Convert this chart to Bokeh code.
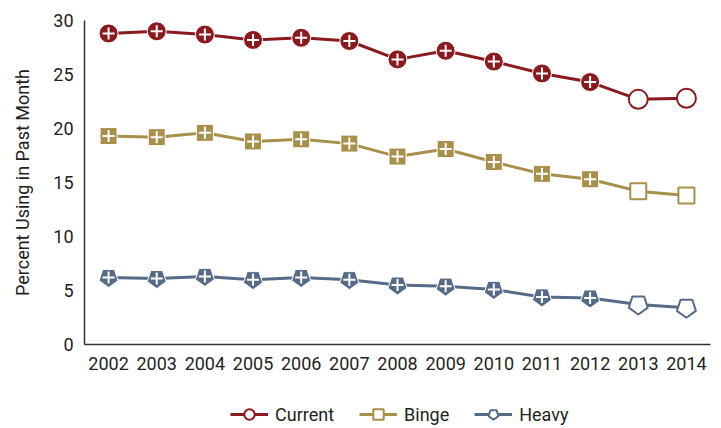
import math
from bokeh.plotting import figure
from bokeh.layouts import column
from bokeh.models import ColumnDataSource, Legend, LegendItem, Range1d, FixedTicker
from bokeh.embed import file_html
from bokeh.resources import INLINE

years = [2002, 2003, 2004, 2005, 2006, 2007, 2008, 2009, 2010, 2011, 2012, 2013, 2014]
current = [28.8, 29.0, 28.7, 28.2, 28.4, 28.1, 26.4, 27.2, 26.2, 25.1, 24.3, 22.7, 22.8]
binge = [19.3, 19.2, 19.6, 18.8, 19.0, 18.6, 17.4, 18.1, 16.9, 15.8, 15.3, 14.2, 13.8]
heavy = [6.2, 6.1, 6.3, 6.0, 6.2, 6.0, 5.5, 5.4, 5.1, 4.4, 4.3, 3.7, 3.4]
# filled marker (+) = difference from 2014 is significant
significant = [True, True, True, True, True, True, True, True, True, True, True, False, False]
y_ticks = [0, 5, 10, 15, 20, 25, 30]
series_names = ["Current", "Binge", "Heavy"]

FONT = "Roboto"
TXT = "#231f20"
colors = {"Current": "#8b1a1e", "Binge": "#a8904b", "Heavy": "#566b87"}

p = figure(frame_width=626, frame_height=324, x_range=Range1d(2001.5, 2014.5), y_range=Range1d(0, 30),
           output_backend="svg", toolbar_location=None,
           min_border_left=84, min_border_right=3, min_border_top=20, min_border_bottom=40)
p.outline_line_color = None
p.xgrid.visible = False
p.ygrid.visible = False

for ax in (p.xaxis[0], p.yaxis[0]):
    ax.axis_line_color = "#333333"
    ax.axis_line_width = 1.5
    ax.major_tick_line_color = None
    ax.minor_tick_line_color = None
    ax.major_tick_out = 0
    ax.major_tick_in = 0
    ax.major_label_text_font = FONT
    ax.major_label_text_font_size = "18px"
    ax.major_label_text_color = TXT
p.xaxis.ticker = FixedTicker(ticks=years)
p.yaxis.ticker = FixedTicker(ticks=y_ticks)
p.xaxis.major_label_standoff = 12
p.yaxis.major_label_standoff = 11
p.yaxis.axis_label = "Percent Using in Past Month"
p.yaxis.axis_label_text_font = FONT
p.yaxis.axis_label_text_font_size = "18px"
p.yaxis.axis_label_text_font_style = "normal"
p.yaxis.axis_label_text_color = TXT
p.yaxis.axis_label_standoff = 17

# legend lives in a small companion figure below the chart (its ranges keep the data off-view)
lg = figure(width=713, height=44, x_range=Range1d(0, 1), y_range=Range1d(0, 1),
            output_backend="svg", toolbar_location=None, min_border=0)
lg.axis.visible = False
lg.grid.visible = False
lg.outline_line_color = None

items = []
for name, vals in zip(series_names, (current, binge, heavy)):
    c = colors[name]
    src = ColumnDataSource(dict(x=years, y=vals))
    fsrc = ColumnDataSource(dict(x=[x for x, s in zip(years, significant) if s],
                                 y=[v for v, s in zip(vals, significant) if s]))
    hsrc = ColumnDataSource(dict(x=[x for x, s in zip(years, significant) if not s],
                                 y=[v for v, s in zip(vals, significant) if not s]))
    p.line("x", "y", source=src, line_color=c, line_width=3)
    lg_line = lg.line("x", "y", source=src, line_color=c, line_width=3)
    if name == "Current":
        p.scatter("x", "y", source=fsrc, marker="circle", size=19, fill_color=c,
                  line_color="white", line_width=1)
        p.scatter("x", "y", source=hsrc, marker="circle", size=19, fill_color="white",
                  line_color=c, line_width=2)
        lg_mark = lg.scatter("x", "y", source=hsrc, marker="circle", size=17, fill_color="white",
                             line_color=c, line_width=2)
    elif name == "Binge":
        p.scatter("x", "y", source=fsrc, marker="square", size=17, fill_color=c,
                  line_color="white", line_width=1)
        p.scatter("x", "y", source=hsrc, marker="square", size=16, fill_color="white",
                  line_color=c, line_width=2)
        lg_mark = lg.scatter("x", "y", source=hsrc, marker="square", size=16, fill_color="white",
                             line_color=c, line_width=2)
    else:
        p.ngon("x", "y", source=fsrc, radius=10, radius_units="screen", n=5, angle=math.pi,
               fill_color=c, line_color="white", line_width=1)
        p.ngon("x", "y", source=hsrc, radius=10, radius_units="screen", n=5, angle=math.pi,
               fill_color="white", line_color=c, line_width=2)
        lg_mark = lg.ngon("x", "y", source=hsrc, radius=10, radius_units="screen", n=5,
                          angle=math.pi, fill_color="white", line_color=c, line_width=2)
    p.scatter("x", "y", source=fsrc, marker="cross", size=12, line_color="white", line_width=2)
    items.append(LegendItem(label=name, renderers=[lg_line, lg_mark]))

legend = Legend(items=items, orientation="horizontal", location=(146, 1),
                border_line_color=None, background_fill_alpha=0,
                label_text_font=FONT, label_text_font_size="18px", label_text_color=TXT,
                glyph_width=38, glyph_height=26, spacing=25, label_standoff=7,
                padding=0, margin=0)
lg.add_layout(legend, "center")

layout = column(p, lg, spacing=0)
open("out.html", "w").write(file_html(layout, INLINE))
